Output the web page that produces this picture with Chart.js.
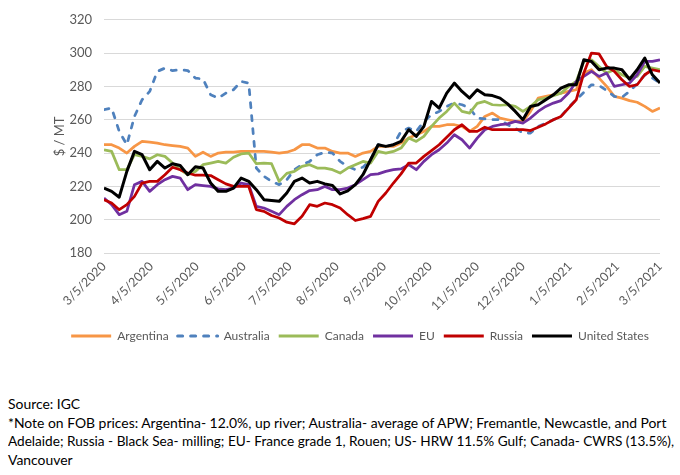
<!DOCTYPE html>
<html><head><meta charset="utf-8">
<script src="https://cdn.jsdelivr.net/npm/chart.js@4.4.1/dist/chart.umd.min.js"></script>
<style>
html,body{margin:0;padding:0;background:#fff;overflow:hidden;}
#wrap{position:absolute;left:0;top:0;width:680px;height:352px;}
#note{position:absolute;left:8px;top:395px;font-family:Lato,'Liberation Sans',sans-serif;font-size:14.5px;line-height:18.5px;color:#000;white-space:nowrap;}
#note span{display:inline-block;transform-origin:0 50%;}
</style></head><body>
<div id="wrap"><canvas id="c" width="680" height="352"></canvas></div>
<div id="note"><span>Source: IGC</span><br><span id="l1">*Note on FOB prices: Argentina- 12.0%, up river; Australia- average of APW; Fremantle, Newcastle, and Port</span><br><span id="l2">Adelaide; Russia - Black Sea- milling; EU- France grade 1, Rouen; US- HRW 11.5% Gulf; Canada- CWRS (13.5%),</span><br><span>Vancouver</span></div>
<script>
const dates = ['2020-03-05','2020-03-10','2020-03-15','2020-03-20','2020-03-25','2020-03-30','2020-04-04','2020-04-09','2020-04-14','2020-04-19',
'2020-04-24','2020-04-29','2020-05-04','2020-05-09','2020-05-14','2020-05-19','2020-05-24','2020-05-29','2020-06-03','2020-06-08',
'2020-06-13','2020-06-18','2020-06-23','2020-06-28','2020-07-03','2020-07-08','2020-07-13','2020-07-18','2020-07-23','2020-07-28',
'2020-08-02','2020-08-07','2020-08-12','2020-08-17','2020-08-22','2020-08-27','2020-09-01','2020-09-06','2020-09-11','2020-09-16',
'2020-09-21','2020-09-26','2020-10-01','2020-10-06','2020-10-11','2020-10-16','2020-10-21','2020-10-26','2020-10-31','2020-11-05',
'2020-11-10','2020-11-15','2020-11-20','2020-11-25','2020-11-30','2020-12-05','2020-12-10','2020-12-15','2020-12-20','2020-12-25',
'2020-12-30','2021-01-04','2021-01-09','2021-01-14','2021-01-19','2021-01-24','2021-01-29','2021-02-03','2021-02-08','2021-02-13',
'2021-02-18','2021-02-23','2021-02-28','2021-03-05'];

const argentina = [245,245,243,240,244,247,246.5,246,245,244.5, 244,243,238,240.5,238,240,240.5,240.5,241,241,
241,241,240.5,240,240.5,242,245,245,243,243, 241,240,240,238,240,241,244,244,244,246,
249,251,253,256,256,257,257,256,253,256, 262,264,261,260,259,259,265,273,274,275,
276,277,278,288,290,285,280,274,273,271.5, 270.5,268,265,267];
const australia = [266,267,253,245,262,272,277,289,291,289.5, 290,289.5,285,284.5,275,273,276,278,283,282,
231,226,223,221,224,230,233,235,239,240.5, 240,235,232,230,231.5,236,245,244,245,253,
255,253,259,263,265,268,270,269,267,261, 260.5,260,260,257,255,252,252,256,258,260,
262,267.5,272,276.5,281,280.5,277.5,274,273.5,277, 281.5,287,285,282];
const canada = [242,241,230,230,239,238,236.5,239,238,234, 230,227,229,233,234,235,234,237.5,239.5,240,
233.6,234,233.6,223,227.8,229,232,233,231,231, 230,228,231,233,235,234,241,240,241,243,
249,247,250,256,261,265,270,265,264,269.8, 271,269,268.7,269,268,265,268,272,273,274.5,
276,280,283,295,296,292,288,290,287,285, 286,292,291,290];
const eu = [213,209,203,205,221,223,217,221,224,226, 225,218,221,220.5,220,218.5,218,219,222,221,
208,207,205,203,208,212,215,217.5,218,220, 218,218,219,221,224,227,227.5,229,230,230.5,
233,230,235,239,242,246,251,248,243,249, 254,256,257,257.5,259,258,261,265,268,270,
271.5,276,283,286,289,286,288,280,281,282, 287,295,295,296];
const russia = [212,210,206,209,214,222,223,223,227,231.5, 230,228,226.7,226.7,226.5,224,221.5,220,220,220,
206,205,202.5,201,198.5,197.5,202,209,208,210, 209,207,203,199.5,200.6,202,211,216,222,227.5,
234,234,238,241.5,245,249.5,254,257,253,253, 255.5,254,254,254,254,254,253.5,255.5,257.5,260,
262,267,272,288,300,299.5,292,289,284,280, 281,287,290,289];
const us = [219,217,213.5,229,241,239,230,235,231,233.6, 232.5,227,231.8,231,222,217,217,219,225,223,
218,212,211.5,211,216,223,225,222,223,221.5, 220.5,215.5,217.3,221,227,236,245,244,245,247,
254,250,256,271,267,276,282,277,273,278, 275,274.5,273,269.5,265,260,268,269,272,275,
279,281,281,296,295,290,291,291,290,284.3, 290,297,287,282];

const tickDates = ['2020-03-05','2020-04-05','2020-05-05','2020-06-05','2020-07-05','2020-08-05','2020-09-05','2020-10-05','2020-11-05','2020-12-05','2021-01-05','2021-02-05','2021-03-05'];
const tickLabels = ['3/5/2020','4/5/2020','5/5/2020','6/5/2020','7/5/2020','8/5/2020','9/5/2020','10/5/2020','11/5/2020','12/5/2020','1/5/2021','2/5/2021','3/5/2021'];
const yTicks = [180,200,220,240,260,280,300,320];

const DAY = 86400000;
const t0 = Date.parse(dates[0]);
const toDay = d => (Date.parse(d) - t0) / DAY;
const xs = dates.map(toDay);
const tickDays = tickDates.map(toDay);
const pts = arr => arr.map((v, i) => ({x: xs[i], y: v}));

const series = [
  {label: 'Argentina', data: argentina, color: '#F79646'},
  {label: 'Australia', data: australia, color: '#4F81BD', dash: [5, 8]},
  {label: 'Canada', data: canada, color: '#9BBB59'},
  {label: 'EU', data: eu, color: '#7030A0'},
  {label: 'Russia', data: russia, color: '#C00000'},
  {label: 'United States', data: us, color: '#000000'}
];

const FONT = 'Lato, "Liberation Sans", sans-serif';
const GREY = '#595959';

// fit the footnote lines to the reference widths
const note = document.getElementById('note');
const l1 = document.getElementById('l1'), l2 = document.getElementById('l2');
const w1 = l1.getBoundingClientRect().width;
if (w1 > 0) note.style.fontSize = (14.5 * 659 / w1).toFixed(2) + 'px';
const w2 = l2.getBoundingClientRect().width;
if (w2 > 666) l2.style.transform = 'scaleX(' + (666 / w2).toFixed(4) + ')';

new Chart(document.getElementById('c'), {
  type: 'line',
  data: {
    datasets: series.map((s, i) => ({
      label: s.label,
      data: pts(s.data),
      borderColor: s.color,
      backgroundColor: s.color,
      borderWidth: s.label === 'United States' ? 3 : 2.75,
      borderDash: s.dash || [],
      borderCapStyle: s.dash ? 'round' : 'butt',
      borderJoinStyle: 'round',
      pointRadius: 0,
      tension: 0,
      fill: false,
      order: series.length - i
    }))
  },
  options: {
    responsive: false,
    animation: false,
    devicePixelRatio: 1,
    layout: {padding: {left: 60, right: 20, top: 4, bottom: 0}},
    plugins: {
      tooltip: {enabled: false},
      legend: {
        position: 'bottom',
        labels: {
          usePointStyle: true,
          pointStyle: 'line',
          pointStyleWidth: 40,
          padding: 9,
          color: GREY,
          font: {family: FONT, size: 12},
          sort: (a, b) => a.datasetIndex - b.datasetIndex,
          generateLabels: ch => Chart.defaults.plugins.legend.labels.generateLabels(ch).map(it => {
            const ds = ch.data.datasets[it.datasetIndex];
            it.lineDash = ds.borderDash;
            it.lineCap = ds.borderCapStyle;
            it.lineWidth = 3;
            it.strokeStyle = ds.borderColor;
            return it;
          })
        }
      }
    },
    scales: {
      x: {
        type: 'linear',
        min: 0,
        max: tickDays[tickDays.length - 1],
        afterBuildTicks: s => { s.ticks = tickDays.map(v => ({value: v})); },
        afterFit: s => { s.height = 68; },
        grid: {display: false, drawTicks: false},
        border: {display: false},
        ticks: {
          autoSkip: false,
          minRotation: 45,
          maxRotation: 45,
          padding: 6,
          color: GREY,
          font: {family: FONT, size: 12.5},
          callback: v => tickLabels[tickDays.indexOf(v)]
        }
      },
      y: {
        min: yTicks[0],
        max: yTicks[yTicks.length - 1],
        afterFit: s => { s.width = 44; },
        afterBuildTicks: s => { s.ticks = yTicks.map(v => ({value: v})); },
        grid: {color: '#d9d9d9', lineWidth: 1, drawTicks: false},
        border: {display: false},
        ticks: {padding: 12, color: GREY, font: {family: FONT, size: 13}},
        title: {display: true, text: '$ / MT', color: GREY, font: {family: FONT, size: 13}, padding: {top: -8, bottom: 0}}
      }
    }
  }
});
</script>
</body></html>
